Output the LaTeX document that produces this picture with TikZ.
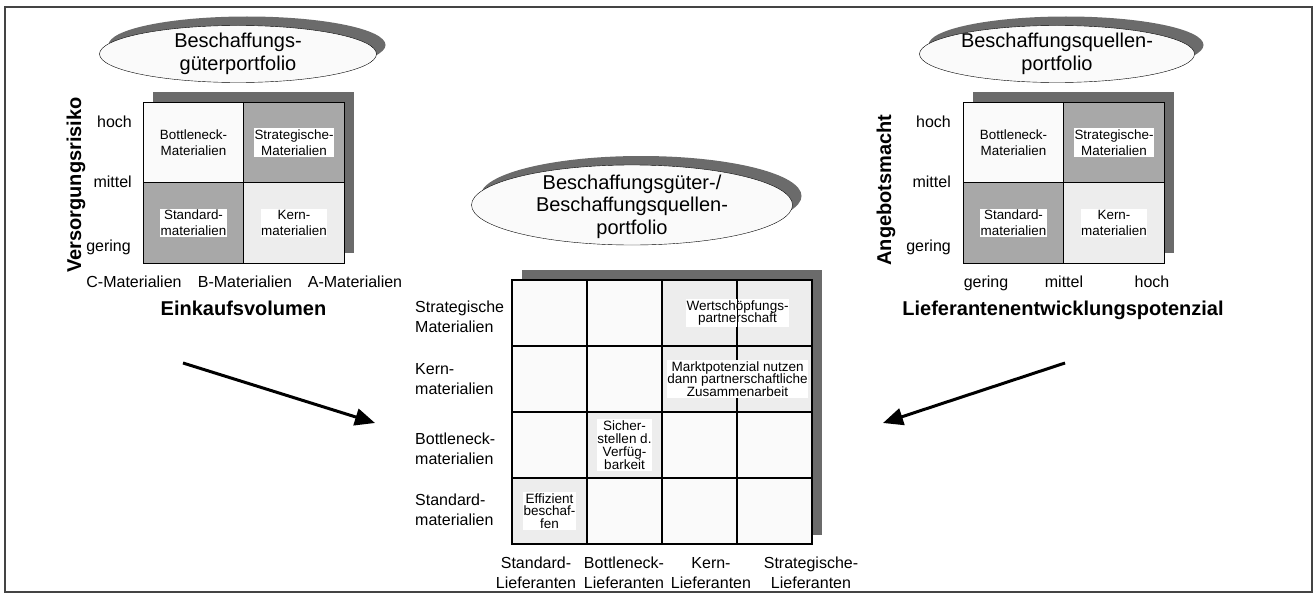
\documentclass[tikz,border=0pt]{standalone}
\usepackage{fontspec}
\setmainfont{Liberation Sans}
\usetikzlibrary{arrows.meta,positioning}

\definecolor{shadowgray}{HTML}{6B6B6B}
\definecolor{cellgray}{HTML}{A8A8A8}
\definecolor{celllight}{HTML}{EDEDED}
\definecolor{paper}{HTML}{FAFAFA}
\definecolor{framegray}{HTML}{444444}
\newcommand{\fs}[2]{\fontsize{#1}{#2}\selectfont}

\begin{document}
\begin{tikzpicture}[x=1pt,y=-1pt,on grid,node distance=80.5pt and 100.5pt,
  cell/.style={rectangle,draw,line width=1.2pt,fill=paper,minimum width=100.5pt,minimum height=80.5pt,inner sep=0pt},
  mcell/.style={cell,minimum width=75pt,minimum height=66pt},
  hl13/.style={fill=celllight},hl14/.style={fill=celllight},hl23/.style={fill=celllight},
  hl24/.style={fill=celllight},hl32/.style={fill=celllight},hl41/.style={fill=celllight},
  tag/.style={fill=white,inner xsep=0.5pt,inner ysep=1.5pt,align=center,font=\fs{13.4}{16}},
  mtag/.style={tag,font=\fs{13.5}{12.8}},
  ax/.style={font=\fs{16}{20},inner sep=0pt,align=center},
  axt/.style={font=\bfseries\fs{20}{24},inner sep=0pt},
  ttl/.style={font=\fs{20}{22.5},align=center,inner sep=0pt},
  bigarrow/.style={line width=3pt,-{Triangle[length=20pt,width=17pt]}}]
  \useasboundingbox (0,0) rectangle (1316,594);
  \draw[line width=1.2pt,framegray] (5,7) rectangle (1312,592);

  % Beschaffungsgueterportfolio
  \coordinate (e1) at (238,54);
  \fill[shadowgray] ([shift={(9,-9)}]e1) ellipse [x radius=138.5pt,y radius=28.5pt];
  \draw[fill=paper] (e1) ellipse [x radius=138.5pt,y radius=28.5pt];
  \node[ttl] (t1) at (e1) {Beschaffungs-\\g\"uterportfolio};
  \fill[shadowgray] (153,92) rectangle (354,253);
  \node[cell] (b11) at (193.5,142.5) {};
  \node[cell,fill=cellgray] (b12) [right=of b11] {};
  \node[cell,fill=cellgray] (b21) [below=of b11] {};
  \node[cell,fill=celllight] (b22) [right=of b21] {};
  \node[tag,fill=paper] (b11t) at (b11) {Bottleneck-\\Materialien};
  \node[tag] (b12t) at (b12) {Strategische-\\Materialien};
  \node[tag] (b21t) at (b21) {Standard-\\materialien};
  \node[tag] (b22t) at (b22) {Kern-\\materialien};
  \node[ax,anchor=base east] (bh) at (132,127) {hoch};
  \node[ax,anchor=base east] (bm) at (132,187) {mittel};
  \node[ax,anchor=base east] (bg) at (131,251) {gering};
  \node[ax,anchor=base] (bc) at (134,287) {C-Materialien};
  \node[ax,anchor=base] (bb) at (245,287) {B-Materialien};
  \node[ax,anchor=base] (ba) at (355,287) {A-Materialien};
  \node[axt,anchor=base] (bx) at (243.5,315) {Einkaufsvolumen};
  \node[axt,anchor=base,rotate=90] (by) at (81,185) {Versorgungsrisiko};

  % Beschaffungsquellenportfolio
  \coordinate (e2) at (1057,54);
  \fill[shadowgray] ([shift={(9,-9)}]e2) ellipse [x radius=137.5pt,y radius=28.5pt];
  \draw[fill=paper] (e2) ellipse [x radius=137.5pt,y radius=28.5pt];
  \node[ttl] (t2) at (e2) {Beschaffungsquellen-\\portfolio};
  \fill[shadowgray] (973,92) rectangle (1174,253);
  \node[cell] (q11) at (1013.5,142.5) {};
  \node[cell,fill=cellgray] (q12) [right=of q11] {};
  \node[cell,fill=cellgray] (q21) [below=of q11] {};
  \node[cell,fill=celllight] (q22) [right=of q21] {};
  \node[tag,fill=paper] (q11t) at (q11) {Bottleneck-\\Materialien};
  \node[tag] (q12t) at (q12) {Strategische-\\Materialien};
  \node[tag] (q21t) at (q21) {Standard-\\materialien};
  \node[tag] (q22t) at (q22) {Kern-\\materialien};
  \node[ax,anchor=base east] (qh) at (951,127) {hoch};
  \node[ax,anchor=base east] (qm) at (951,187) {mittel};
  \node[ax,anchor=base east] (qg) at (951,251) {gering};
  \node[ax,anchor=base] (qlg) at (986,287) {gering};
  \node[ax,anchor=base] (qlm) at (1064,287) {mittel};
  \node[ax,anchor=base] (qlh) at (1152,287) {hoch};
  \node[axt,anchor=base] (qx) at (1063,315) {Lieferantenentwicklungspotenzial};
  \node[axt,anchor=base,rotate=90] (qy) at (891,190) {Angebotsmacht};

  % kombiniertes Portfolio
  \coordinate (e3) at (632,205);
  \fill[shadowgray] ([shift={(9,-9)}]e3) ellipse [x radius=160.5pt,y radius=40pt];
  \draw[fill=paper] (e3) ellipse [x radius=160.5pt,y radius=40pt];
  \node[ttl] (t3) at ([yshift=-1.5pt]e3) {Beschaffungsg\"uter-/\\Beschaffungsquellen-\\portfolio};
  \fill[shadowgray] (522,270) rectangle (822,535);
  \foreach \r in {1,...,4}
    \foreach \c in {1,...,4}
      \node[mcell,hl\r\c/.try] (m\r\c) at ({474.5+75*\c},{247+66*\r}) {};
  \node[mtag] (m1t) at (m13.east) {Wertsch\"opfungs-\\partnerschaft};
  \draw[line width=1.2pt] (m13.north east) -- (m13.south east);
  \node[mtag] (m2t) at (m23.east) {Marktpotenzial nutzen\\dann partnerschaftliche\\Zusammenarbeit};
  \node[mtag] (m3t) at (m32) {Sicher-\\stellen d.\\Verf\"ug-\\barkeit};
  \node[mtag] (m4t) at (m41) {Effizient\\beschaf-\\fen};
  \node[ax,anchor=west,align=left] (r1) at (415,317) {Strategische\\Materialien};
  \node[ax,anchor=west,align=left] (r2) at (415,379) {Kern-\\materialien};
  \node[ax,anchor=west,align=left] (r3) at (415,449) {Bottleneck-\\materialien};
  \node[ax,anchor=west,align=left] (r4) at (415,510) {Standard-\\materialien};
  \node[ax] (c1) at (536,573) {Standard-\\Lieferanten};
  \node[ax] (c2) at (624,573) {Bottleneck-\\Lieferanten};
  \node[ax] (c3) at (711,573) {Kern-\\Lieferanten};
  \node[ax] (c4) at (811,573) {Strategische-\\Lieferanten};

  % Pfeile
  \coordinate (pl) at (183,363);
  \coordinate (pr) at (1065,363);
  \coordinate (zl) at (375,423);
  \coordinate (zr) at (883,423);
  \draw[bigarrow] (pl) -- (zl);
  \draw[bigarrow] (pr) -- (zr);
\end{tikzpicture}
\end{document}
